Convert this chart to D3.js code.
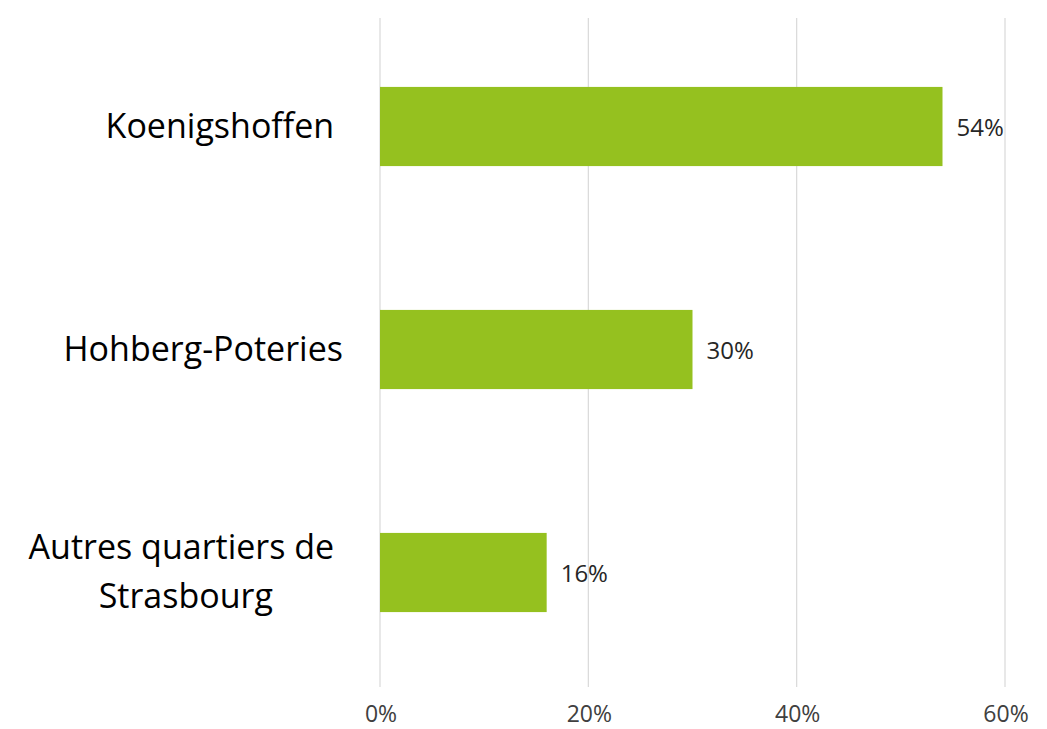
<!DOCTYPE html>
<html>
<head>
<meta charset="utf-8">
<script src="https://cdn.jsdelivr.net/npm/d3@7"></script>
<style>
  body { margin: 0; background: #fff; }
  svg text { font-family: "Open Sans", sans-serif; white-space: pre; }
</style>
</head>
<body>
<div id="chart"></div>
<script>
const width = 1047, height = 729;
const margin = { top: 18, right: 42, bottom: 42, left: 380 };

// data (trailing spaces are in the original labels)
const categories = [["Koenigshoffen "], ["Hohberg-Poteries"], ["Autres quartiers de ", "Strasbourg"]];
const values = [0.54, 0.30, 0.16];
const tickValues = [0, 0.2, 0.4, 0.6];

const barColor = '#95c11f';

const svg = d3.select('#chart')
  .append('svg')
  .attr('width', width)
  .attr('height', height);

const x = d3.scaleLinear()
  .domain([0, 0.6])
  .range([margin.left, width - margin.right]);

const y = d3.scaleBand()
  .domain(d3.range(categories.length))
  .range([margin.top - 3, height - margin.bottom - 3])
  .paddingInner(0.645)
  .paddingOuter(0.3225);

// gridlines
svg.append('g')
  .selectAll('line')
  .data(tickValues)
  .enter()
  .append('line')
  .attr('x1', d => x(d))
  .attr('x2', d => x(d))
  .attr('y1', margin.top)
  .attr('y2', height - margin.bottom)
  .attr('stroke', '#d9d9d9')
  .attr('stroke-width', 1.2);

// x axis tick labels
svg.append('g')
  .selectAll('text')
  .data(tickValues)
  .enter()
  .append('text')
  .attr('x', d => x(d) + 1)
  .attr('y', 722)
  .attr('text-anchor', 'middle')
  .style('font-size', '23px')
  .style('fill', '#404040')
  .text(d => d3.format('.0%')(d));

// bars
svg.append('g')
  .selectAll('rect')
  .data(values)
  .enter()
  .append('rect')
  .attr('x', x(0))
  .attr('y', (d, i) => y(i))
  .attr('width', d => x(d) - x(0))
  .attr('height', y.bandwidth())
  .attr('fill', barColor);

// value labels
svg.append('g')
  .selectAll('text')
  .data(values)
  .enter()
  .append('text')
  .attr('x', d => x(d) + 14)
  .attr('y', (d, i) => y(i) + y.bandwidth() / 2 + 9)
  .style('font-size', '24px')
  .style('fill', '#262626')
  .text(d => d3.format('.0%')(d));

// category labels
const labelRight = 343;
categories.forEach((lines, i) => {
  const cy = y(i) + y.bandwidth() / 2 + 11;
  const lineHeight = 49;
  const g = svg.append('g');
  const texts = lines.map((line, j) => g.append('text')
    .attr('y', cy + (j - (lines.length - 1) / 2) * lineHeight)
    .style('font-size', '34px')
    .style('fill', '#000')
    .text(line));

  // wrapped lines are centred on the widest one, which is right-aligned
  const widest = d3.max(texts, t => t.node().getComputedTextLength());
  const cx = labelRight - widest / 2;
  texts.forEach(t => t.attr('x', cx).attr('text-anchor', 'middle'));
});
</script>
</body>
</html>
